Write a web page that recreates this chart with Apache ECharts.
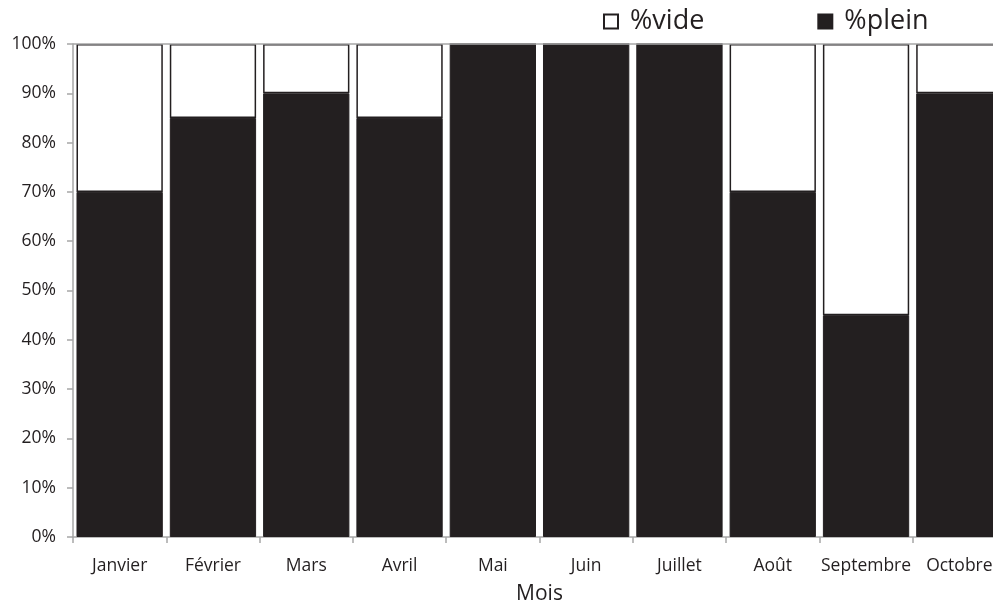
<!DOCTYPE html>
<html>
<head>
<meta charset="utf-8">
<script src="https://cdn.jsdelivr.net/npm/echarts@6/dist/echarts.min.js"></script>
<style>
  html, body { margin: 0; padding: 0; background: #fff; }
  #chart { width: 993px; height: 605px; }
</style>
</head>
<body>
<div id="chart"></div>
<script>
// Monthly fill rate: share of full vs. empty, stacked to 100%
const months = ['Janvier', 'Février', 'Mars', 'Avril', 'Mai', 'Juin', 'Juillet', 'Août', 'Septembre', 'Octobre'];
const pctPlein = [70, 85, 90, 85, 100, 100, 100, 70, 45, 90];
const pctVide = [30, 15, 10, 15, 0, 0, 0, 30, 55, 10];
const yTicks = [0, 10, 20, 30, 40, 50, 60, 70, 80, 90, 100];

const FONT = '"Open Sans", "Noto Sans", sans-serif';
const DARK = '#231f20';
const GREY = '#a6a6a6';

const chart = echarts.init(document.getElementById('chart'), null, { renderer: 'canvas' });

chart.setOption({
  animation: false,
  backgroundColor: '#ffffff',
  textStyle: { fontFamily: FONT },
  legend: {
    top: 3,
    left: 598,
    itemGap: 113,
    itemWidth: 14,
    itemHeight: 14,
    icon: 'rect',
    formatter: name => ' ' + name,
    textStyle: { fontFamily: FONT, fontSize: 27, color: '#231f20' },
    data: ['%vide', '%plein']
  },
  grid: { left: 73, top: 44, width: 933, height: 493, containLabel: false, outerBoundsMode: 'none' },
  xAxis: {
    type: 'category',
    data: months,
    name: 'Mois',
    nameLocation: 'middle',
    nameGap: 47,
    nameTextStyle: { fontFamily: FONT, fontSize: 21, color: '#231f20' },
    axisLine: { lineStyle: { color: GREY, width: 1.5 } },
    axisTick: { show: true, length: 6, lineStyle: { color: GREY, width: 1.5 } },
    axisLabel: { interval: 0, fontFamily: FONT, fontSize: 17.5, color: '#231f20', margin: 20 }
  },
  yAxis: {
    type: 'value',
    min: 0,
    max: 100,
    interval: 10,
    axisLine: { show: true, lineStyle: { color: GREY, width: 1.5 } },
    axisTick: { show: true, length: 6, lineStyle: { color: GREY, width: 1.5 } },
    splitLine: { show: false },
    axisLabel: {
      fontFamily: FONT, fontSize: 17.5, color: '#231f20', margin: 17,
      formatter: v => (yTicks.includes(v) ? v + '%' : '')
    }
  },
  series: [
    {
      name: '%plein',
      type: 'bar',
      stack: 'total',
      data: pctPlein,
      barCategoryGap: '7.5%',
      itemStyle: { color: DARK, borderColor: DARK, borderWidth: 1 },
      markLine: {
        silent: true,
        symbol: 'none',
        label: { show: false },
        lineStyle: { color: GREY, width: 1.5, type: 'solid' },
        data: [{ yAxis: 100 }]
      }
    },
    {
      name: '%vide',
      type: 'bar',
      stack: 'total',
      data: pctVide,
      barCategoryGap: '7.5%',
      itemStyle: { color: '#ffffff', borderColor: DARK, borderWidth: 1.5 }
    }
  ]
});
</script>
</body>
</html>
